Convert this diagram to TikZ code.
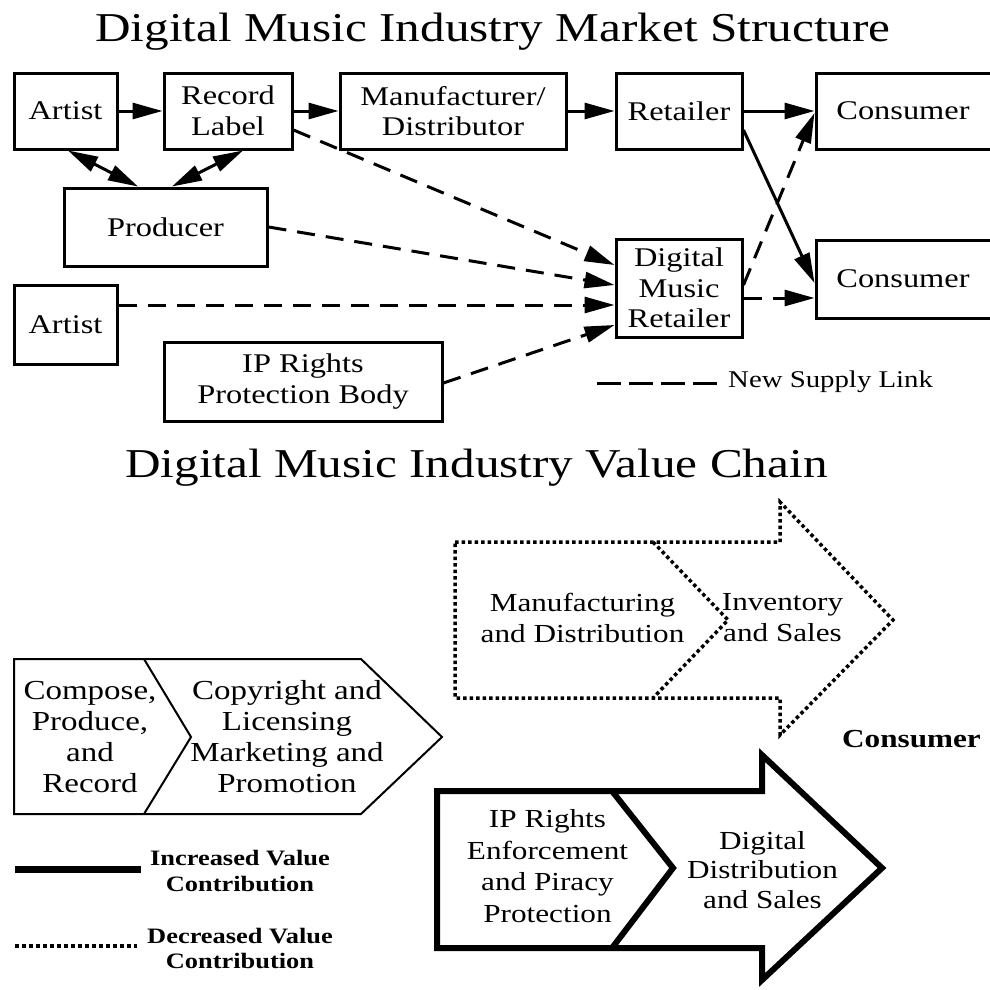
\documentclass[tikz,border=0pt]{standalone}
\usepackage{fontspec}
\setmainfont[FakeStretch=1.2]{Liberation Serif}
\usetikzlibrary{arrows.meta}
\begin{document}
\begin{tikzpicture}[x=1pt,y=-1pt,
  >={Triangle[length=30pt,width=16pt]},
  box/.style={draw, line width=3pt, inner sep=0pt, align=center, font=\fontsize{27}{30.5}\selectfont},
  conn/.style={line width=3pt, ->},
  dconn/.style={line width=3pt, ->, dash pattern=on 18pt off 11pt},
  bothconn/.style={line width=3pt, <->},
  txt/.style={inner sep=0pt, align=center},
  dotline/.style={line width=3.5pt, dash pattern=on 3.5pt off 3pt},
  thickline/.style={line width=6pt, line join=miter},
  thinline/.style={line width=2pt, line join=miter}]
\fill[white] (0,0) rectangle (990,990);
\clip (0,0) rectangle (990,990);

% titles
\node[anchor=base west, inner sep=0pt, font=\fontsize{41}{48}\selectfont] (t1) at (95,42) {Digital Music Industry Market Structure};
\node[anchor=base west, inner sep=0pt, font=\fontsize{41}{48}\selectfont] (t2) at (125,477) {Digital Music Industry Value Chain};

% market structure boxes
\node[box, minimum width=103pt, minimum height=76pt] (artA) at (65.5,111) {Artist};
\node[box, minimum width=128pt, minimum height=76pt] (rl) at (228,111) {Record\\Label};
\node[box, minimum width=226pt, minimum height=76pt] (manu) at (453,111) {Manufacturer/\\Distributor};
\node[box, minimum width=126pt, minimum height=76pt] (ret) at (679,111) {Retailer};
\node[box, minimum width=190pt, minimum height=76pt] (consA) at (911,111) {Consumer\hspace*{16pt}};
\node[box, minimum width=203pt, minimum height=78pt] (prod) at (165.5,227) {Producer};
\node[box, minimum width=103pt, minimum height=79pt] (artB) at (65.5,324.5) {Artist};
\node[box, minimum width=278pt, minimum height=79pt] (ipb) at (303,381.5) {IP Rights\\Protection Body};
\node[box, minimum width=126pt, minimum height=98pt] (dmr) at (679,288) {Digital\\Music\\Retailer};
\node[box, minimum width=190pt, minimum height=78pt] (consB) at (911,279) {Consumer\hspace*{16pt}};

% connectors
\draw[conn] (artA) -- (rl);
\draw[conn] (rl) -- (manu);
\draw[conn] (manu) -- (ret);
\draw[conn] (ret) -- (consA);
\draw[conn] ([yshift=-19pt]ret.east) -- ([yshift=-4pt]consB.west);
\draw[dconn] ([yshift=3pt]dmr.east) -- ([yshift=-2pt]consA.west);
\draw[dconn] ([yshift=-10pt]dmr.east) -- ([yshift=-19pt]consB.west);
\draw[dconn] ([yshift=-19pt]rl.east) -- ([yshift=23pt]dmr.west);
\draw[dconn] (prod.east) -- ([yshift=3pt]dmr.west);
\draw[dconn] ([yshift=19.5pt]artB.east) -- ([yshift=-17pt]dmr.west);
\draw[dconn] ([yshift=-1.5pt]ipb.east) -- ([yshift=-37pt]dmr.west);
\draw[bothconn] ([xshift=2.5pt]artA.south) -- ([xshift=-27.5pt]prod.north);
\draw[bothconn] ([xshift=15pt]rl.south) -- ([xshift=6.5pt]prod.north);

% legend new supply link
\node[anchor=base west, inner sep=0pt, font=\fontsize{24}{28}\selectfont] (newlink) at (728,387) {New Supply Link};
\draw[line width=3pt, dash pattern=on 24pt off 8pt] ([xshift=-11pt,yshift=-2pt]newlink.west) -- ++(-127,0);

% value chain: left chevrons
\draw[thinline] (14,659) -- (361,659) -- (442,737) -- (361,814) -- (14,814) -- cycle;
\draw[thinline] (144,659) -- (191,737) -- (144,814);
\node[txt, font=\fontsize{27.5}{31}\selectfont] (compose) at (90,737) {Compose,\\Produce,\\and\\Record};
\node[txt, font=\fontsize{27.5}{31}\selectfont] (copyr) at (287,737) {Copyright and\\Licensing\\Marketing and\\Promotion};

% dotted arrow
\draw[dotline] (455,542) -- (780,542) -- (780,502) -- (893,620) -- (780,735) -- (780,698) -- (455,698) -- cycle;
\draw[dotline] (653,542) -- (728,620) -- (653,698);
\node[txt, font=\fontsize{26}{31}\selectfont] (manuf) at (582.5,618) {Manufacturing\\and Distribution};
\node[txt, font=\fontsize{26}{31}\selectfont] (invent) at (782.5,618) {Inventory\\and Sales};

% consumer label
\node[anchor=base, inner sep=0pt, font=\bfseries\fontsize{26}{30}\selectfont] (consC) at (911.5,747) {Consumer};

% thick arrow
\draw[thickline] (437,791) -- (762,791) -- (762,755) -- (882,868) -- (762,980) -- (762,948) -- (437,948) -- cycle;
\draw[thickline] (612,791) -- (673,868) -- (612,948);
\node[txt, font=\fontsize{26}{31.7}\selectfont] (ipenf) at (547.5,866) {IP Rights\\Enforcement\\and Piracy\\Protection};
\node[txt, font=\fontsize{26}{29.5}\selectfont] (digdist) at (762.5,870) {Digital\\Distribution\\and Sales};

% legends
\draw[line width=7pt] (15,869) -- (141,869);
\node[txt, font=\bfseries\fontsize{22}{26}\selectfont] (incr) at (240,870.5) {Increased Value\\Contribution};
\draw[line width=4pt, dash pattern=on 4pt off 3pt] (15,946) -- (137,946);
\node[txt, font=\bfseries\fontsize{22}{25}\selectfont] (decr) at (240,948) {Decreased Value\\Contribution};
\end{tikzpicture}
\end{document}
